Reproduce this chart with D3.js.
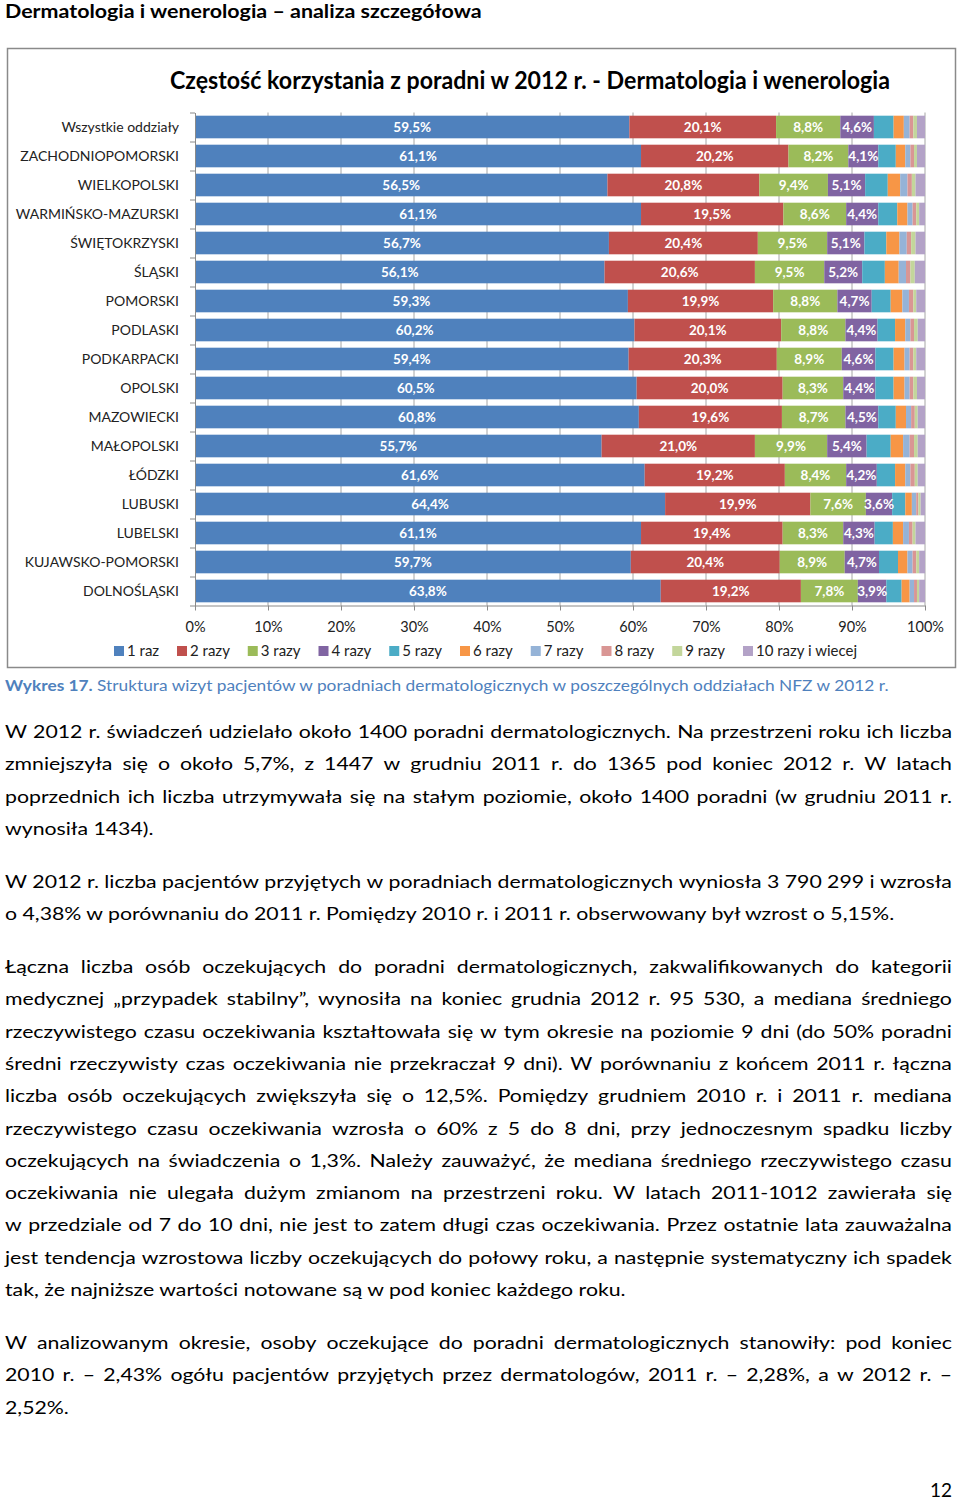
<!DOCTYPE html>
<html><head><meta charset="utf-8">
<script src="https://cdn.jsdelivr.net/npm/d3@7"></script>
<style>body{margin:0;background:#fff}svg{display:block}</style>
</head><body>
<script>
const categories = ["Wszystkie oddziały","ZACHODNIOPOMORSKI","WIELKOPOLSKI","WARMIŃSKO-MAZURSKI","ŚWIĘTOKRZYSKI","ŚLĄSKI","POMORSKI","PODLASKI","PODKARPACKI","OPOLSKI","MAZOWIECKI","MAŁOPOLSKI","ŁÓDZKI","LUBUSKI","LUBELSKI","KUJAWSKO-POMORSKI","DOLNOŚLĄSKI"];
const seriesNames = ["1 raz","2 razy","3 razy","4 razy","5 razy","6 razy","7 razy","8 razy","9 razy","10 razy i wiecej"];
const s1 = [59.5,61.1,56.5,61.1,56.7,56.1,59.3,60.2,59.4,60.5,60.8,55.7,61.6,64.4,61.1,59.7,63.8];
const s2 = [20.1,20.2,20.8,19.5,20.4,20.6,19.9,20.1,20.3,20.0,19.6,21.0,19.2,19.9,19.4,20.4,19.2];
const s3 = [8.8,8.2,9.4,8.6,9.5,9.5,8.8,8.8,8.9,8.3,8.7,9.9,8.4,7.6,8.3,8.9,7.8];
const s4 = [4.6,4.1,5.1,4.4,5.1,5.2,4.7,4.4,4.6,4.4,4.5,5.4,4.2,3.6,4.3,4.7,3.9];
const s5 = [2.7,2.4,3.1,2.6,3.0,3.1,2.6,2.4,2.5,2.5,2.4,3.3,2.5,1.8,2.5,2.6,2.1];
const s6 = [1.4,1.3,1.7,1.4,1.8,1.9,1.6,1.4,1.5,1.5,1.4,1.7,1.4,0.9,1.4,1.3,1.1];
const s7 = [0.8,0.7,1.0,0.7,1.0,1.0,0.9,0.7,0.7,0.7,0.7,0.9,0.7,0.6,0.8,0.7,0.6];
const s8 = [0.5,0.5,0.6,0.5,0.6,0.6,0.6,0.5,0.5,0.5,0.5,0.6,0.6,0.3,0.5,0.5,0.4];
const s9 = [0.5,0.4,0.5,0.4,0.6,0.6,0.4,0.5,0.4,0.5,0.4,0.5,0.4,0.3,0.4,0.4,0.3];
const s10 = [1.1,1.1,1.3,0.8,1.3,1.4,1.2,1.0,1.2,1.1,1.0,1.0,1.0,0.6,1.3,0.8,0.8];
const xTicks = [0,10,20,30,40,50,60,70,80,90,100];

const headerText = "Dermatologia i wenerologia – analiza szczegółowa";
const chartTitle = "Częstość korzystania z poradni w 2012 r. - Dermatologia i wenerologia";
const captionBold = "Wykres 17.";
const captionRest = " Struktura wizyt pacjentów w poradniach dermatologicznych w poszczególnych oddziałach NFZ w 2012 r.";
const paragraphs = [
 ["W 2012 r. świadczeń udzielało około 1400 poradni dermatologicznych. Na przestrzeni roku ich liczba",
  "zmniejszyła się o około 5,7%, z 1447 w grudniu 2011 r. do 1365 pod koniec 2012 r. W latach",
  "poprzednich ich liczba utrzymywała się na stałym poziomie, około 1400 poradni (w grudniu 2011 r.",
  "wynosiła 1434)."],
 ["W 2012 r. liczba pacjentów przyjętych w poradniach dermatologicznych wyniosła 3 790 299 i wzrosła",
  "o 4,38% w porównaniu do 2011 r. Pomiędzy 2010 r. i 2011 r. obserwowany był wzrost o 5,15%."],
 ["Łączna liczba osób oczekujących do poradni dermatologicznych, zakwalifikowanych do kategorii",
  "medycznej „przypadek stabilny”, wynosiła na koniec grudnia 2012 r. 95 530, a mediana średniego",
  "rzeczywistego czasu oczekiwania kształtowała się w tym okresie na poziomie 9 dni (do 50% poradni",
  "średni rzeczywisty czas oczekiwania nie przekraczał 9 dni). W porównaniu z końcem 2011 r. łączna",
  "liczba osób oczekujących zwiększyła się o 12,5%. Pomiędzy grudniem 2010 r. i 2011 r. mediana",
  "rzeczywistego czasu oczekiwania wzrosła o 60% z 5 do 8 dni, przy jednoczesnym spadku liczby",
  "oczekujących na świadczenia o 1,3%. Należy zauważyć, że mediana średniego rzeczywistego czasu",
  "oczekiwania nie ulegała dużym zmianom na przestrzeni roku. W latach 2011-1012 zawierała się",
  "w przedziale od 7 do 10 dni, nie jest to zatem długi czas oczekiwania. Przez ostatnie lata zauważalna",
  "jest tendencja wzrostowa liczby oczekujących do połowy roku, a następnie systematyczny ich spadek",
  "tak, że najniższe wartości notowane są w pod koniec każdego roku."],
 ["W analizowanym okresie, osoby oczekujące do poradni dermatologicznych stanowiły: pod koniec",
  "2010 r. – 2,43% ogółu pacjentów przyjętych przez dermatologów, 2011 r. – 2,28%, a w 2012 r. –",
  "2,52%."]
];
const pageNumber = "12";

const colors = ["#4F81BD","#C0504D","#9BBB59","#8064A2","#4BACC6","#F79646","#95B3D7","#D99694","#C3D69B","#B3A2C7"];
const FONT = "Lato, 'Open Sans', sans-serif";

const seriesValues = [s1,s2,s3,s4,s5,s6,s7,s8,s9,s10];
const table = categories.map((c,i)=>{const o={cat:c}; seriesNames.forEach((s,k)=>o[s]=seriesValues[k][i]); return o;});

const svg = d3.select("body").append("svg").attr("width",960).attr("height",1501)
  .style("font-family",FONT);
svg.append("rect").attr("width",960).attr("height",1501).attr("fill","#fff");

function fitText(sel, x, y, target){
  const w = sel.node().getComputedTextLength();
  sel.attr("x",0).attr("y",0).attr("transform",`translate(${x},${y}) scale(${target/w},1)`);
}

// Header
fitText(svg.append("text").attr("font-size",18).attr("font-weight","bold").attr("fill","#000").text(headerText), 5, 18, 477);

// Frame
svg.append("rect").attr("x",7.5).attr("y",48.5).attr("width",948).attr("height",619)
  .attr("fill","#fff").attr("stroke","#8a8a8a").attr("stroke-width",1.5);

// Chart title
fitText(svg.append("text").attr("font-size",24).attr("font-weight","bold").attr("fill","#000").text(chartTitle), 170, 89, 720);

// Scales
const x = d3.scaleLinear().domain([0,100]).range([195,925]);
const y = d3.scaleBand().domain(categories).range([112.5,605.5]).paddingInner(0.22).paddingOuter(0.11);
const yIdx = d3.scaleLinear().domain([0,categories.length]).range([112.5,605.5]);

// gridlines
svg.append("g").selectAll("line").data(xTicks.slice(1)).join("line")
  .attr("x1",d=>x(d)).attr("x2",d=>x(d)).attr("y1",112.5).attr("y2",605.5)
  .attr("stroke","#a6a6a6").attr("stroke-width",1);

// bars
const stack = d3.stack().keys(seriesNames)(table);
const gBars = svg.append("g");
stack.forEach((layer,k)=>{
  gBars.append("g").attr("fill",colors[k]).selectAll("rect").data(layer).join("rect")
    .attr("x",d=>x(d[0])).attr("width",d=>x(d[1])-x(d[0]))
    .attr("y",d=>y(d.data.cat)).attr("height",y.bandwidth());
});

// labels for first 4 series
const fmt = d3.formatLocale({decimal:",",thousands:" ",grouping:[3],currency:["","zł"]}).format(".1f");
stack.slice(0,4).forEach((layer,k)=>{
  svg.append("g").selectAll("text").data(layer).join("text")
    .attr("x",d=>x((d[0]+d[1])/2)).attr("y",d=>y(d.data.cat)+y.bandwidth()/2)
    .attr("dy","0.36em").attr("text-anchor","middle")
    .attr("font-size",13.5).attr("font-weight","bold").attr("fill","#fff")
    .text(d=>fmt(d[1]-d[0])+"%");
});

// y axis
const yAxis = d3.axisLeft(yIdx).tickValues(d3.range(categories.length+1)).tickFormat("").tickSize(5).tickSizeOuter(0);
const gy = svg.append("g").attr("transform","translate(195,0)").call(yAxis);
gy.selectAll("line,path").attr("stroke","#8a8a8a");

// category labels
svg.append("g").selectAll("text").data(categories).join("text")
  .attr("x",179).attr("y",d=>y(d)+y.bandwidth()/2).attr("dy","0.36em")
  .attr("text-anchor","end").attr("font-size",14).attr("fill","#222").text(d=>d);

// x axis
const xAxis = d3.axisBottom(x).tickValues(xTicks).tickFormat(d=>d+"%").tickSize(5).tickSizeOuter(0).tickPadding(11);
const gx = svg.append("g").attr("transform","translate(0,605.5)").call(xAxis);
gx.selectAll("line,path").attr("stroke","#8a8a8a");
gx.selectAll("text").attr("font-size",14.5).attr("fill","#222").attr("font-family",FONT);

// legend
const gLeg = svg.append("g");
const legItems = seriesNames.map((n,k)=>{
  const g = gLeg.append("g");
  g.append("rect").attr("width",10).attr("height",10).attr("y",-5).attr("fill",colors[k]);
  const t = g.append("text").attr("x",13).attr("dy","0.36em").attr("font-size",15).attr("fill","#222").text(n);
  return {g, w: 13 + t.node().getComputedTextLength()};
});
const legTarget = 743;
const legGap = (legTarget - d3.sum(legItems, d=>d.w)) / (legItems.length-1);
let lx = 0;
legItems.forEach(it=>{ it.g.attr("transform",`translate(${lx},0)`); lx += it.w + legGap; });
gLeg.attr("transform",`translate(114,651)`);

// caption
const cap = svg.append("text").attr("font-size",16).attr("fill","#4F81BD");
cap.append("tspan").attr("font-weight","bold").text(captionBold);
cap.append("tspan").text(captionRest);
fitText(cap, 5, 691, 884);

// body text
const BODY = 18;
const meas = svg.append("text").attr("font-size",BODY).attr("visibility","hidden");
function tw(s){ meas.text(s); return meas.node().getComputedTextLength(); }
const f = 890 / tw(paragraphs[1][1]);
const paraStarts = [732, 882, 967, 1343];
const LH = 32.3;
paragraphs.forEach((lines,p)=>{
  lines.forEach((line,i)=>{
    const yy = paraStarts[p] + i*LH + 6;
    const g = svg.append("g").attr("transform",`translate(5,${yy}) scale(${f},1)`);
    const t = g.append("text").attr("font-size",BODY).attr("fill","#000");
    const last = i === lines.length-1;
    if(last){ t.text(line); }
    else {
      const words = line.split(" ");
      const widths = words.map(tw);
      const target = 947 / f;
      const gap = (target - d3.sum(widths)) / (words.length-1);
      let cx = 0;
      words.forEach((w,j)=>{ t.append("tspan").attr("x",cx).text(w); cx += widths[j] + gap; });
    }
  });
});
meas.remove();

// page number
svg.append("text").attr("x",952).attr("y",1497).attr("text-anchor","end").attr("font-size",19).attr("fill","#000").text(pageNumber);
</script>
</body></html>
